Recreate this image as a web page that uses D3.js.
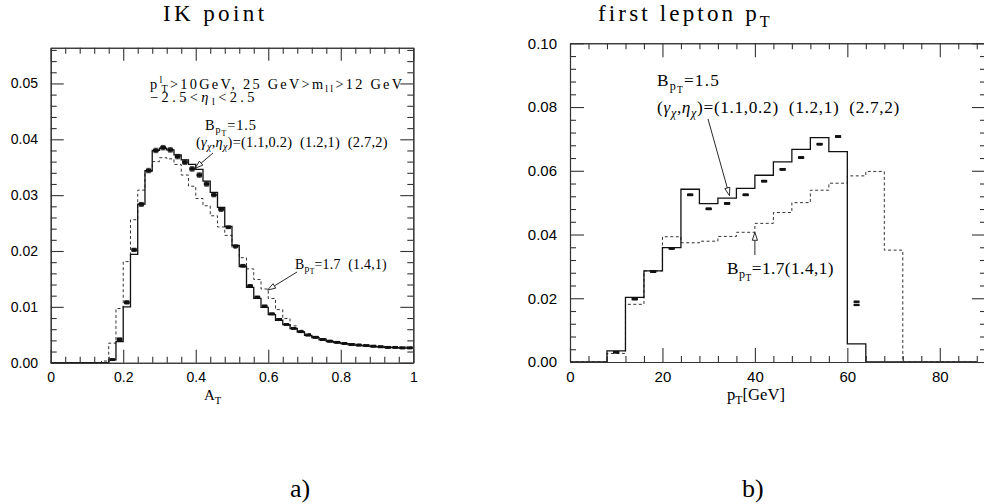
<!DOCTYPE html>
<html>
<head>
<meta charset="utf-8">
<script src="https://cdn.jsdelivr.net/npm/d3@7/dist/d3.min.js"></script>
<style>
  html, body { margin: 0; padding: 0; background: #fff; }
  svg { display: block; }
</style>
</head>
<body>
<svg id="chart" width="984" height="504"></svg>
<script>
// ---------- A_T distribution (0.02-wide bins, lower edges 0.00 ... 0.98) ----------
const atBinWidth = 0.02;
const atBinLow = d3.range(50).map(i => +(i * atBinWidth).toFixed(2));

// B_pT = 1.5, (gamma, eta) = (1.1, 0.2): solid histogram
const atSolid = [
  0, 0, 0, 0, 0, 0, 0, 0,
  0.0005, 0.0038, 0.0100, 0.0194, 0.0284, 0.0344, 0.0380, 0.0384, 0.0381, 0.0372,
  0.0363, 0.0355, 0.0346, 0.0325, 0.0305, 0.0278, 0.0244, 0.0210, 0.0172, 0.0135,
  0.0115, 0.0099, 0.0086, 0.0076, 0.0068, 0.0061, 0.0055, 0.0049, 0.0045, 0.0041,
  0.0038, 0.0036, 0.0034, 0.0032, 0.0031, 0.0030, 0.0029, 0.0028, 0.0027, 0.0027,
  0.0026, 0.0026
];
// B_pT = 1.7, (1.4, 1): dashed histogram
const atDashed = [
  0, 0, 0, 0, 0, 0, 0, 0.0003,
  0.0035, 0.0097, 0.0181, 0.0256, 0.0309, 0.0342, 0.0360, 0.0367, 0.0365, 0.0355,
  0.0336, 0.0316, 0.0294, 0.0281, 0.0263, 0.0243, 0.0228, 0.0205, 0.0188, 0.0168,
  0.0149, 0.0132, 0.0115, 0.0095, 0.0079, 0.0066, 0.0058, 0.0052, 0.0047, 0.0043,
  0.0040, 0.0037, 0.0035, 0.0034, 0.0033, 0.0032, 0.0031, 0.0030, 0.0029, 0.0029,
  0.0028, 0.0028
];
// (1.2, 1) and (2.7, 2): points with error bars
const atPointsB = [
  null, null, null, null, null, null, null, null,
  0.0006, 0.0043, 0.0109, 0.0203, 0.0284, 0.0345, 0.0381, 0.0386, 0.0382, 0.0370,
  0.0360, 0.0348, 0.0337, 0.0321, 0.0301, 0.0275, 0.0243, 0.0209, 0.0174, 0.0138,
  0.0118, 0.0102, 0.0088, 0.0078, 0.0069, 0.0062, 0.0056, 0.0050, 0.0046, 0.0042,
  0.0039, 0.0037, 0.0035, 0.0033, 0.0032, 0.0031, 0.0030, 0.0029, 0.0028, 0.0028,
  0.0027, 0.0027
];
const atPointsC = [
  null, null, null, null, null, null, null, null,
  0.0005, 0.0041, 0.0107, 0.0201, 0.0283, 0.0343, 0.0379, 0.0384, 0.0380, 0.0368,
  0.0358, 0.0346, 0.0335, 0.0319, 0.0300, 0.0274, 0.0242, 0.0208, 0.0173, 0.0137,
  0.0117, 0.0101, 0.0087, 0.0077, 0.0068, 0.0061, 0.0055, 0.0049, 0.0045, 0.0041,
  0.0038, 0.0036, 0.0034, 0.0032, 0.0031, 0.0030, 0.0029, 0.0028, 0.0027, 0.0027,
  0.0026, 0.0026
];
const atErrors = [
  0, 0, 0, 0, 0, 0, 0, 0,
  0.0001, 0.0001, 0.0002, 0.0002, 0.0003, 0.0003, 0.0003, 0.0003, 0.0003, 0.0003,
  0.0003, 0.0003, 0.0003, 0.0003, 0.0003, 0.0003, 0.0002, 0.0002, 0.0002, 0.0002,
  0.0001, 0.0001, 0.0001, 0.0001, 0.0001, 0.0001, 0.0001, 0.0001, 0.0001, 0.0001,
  0.0001, 0.0001, 0.0001, 0.0001, 0.0001, 0.0001, 0.0001, 0.0001, 0.0001, 0.0001,
  0.0001, 0.0001
];
const atTicks = [0, 0.2, 0.4, 0.6, 0.8, 1];
const atTickLabels = ["0", "0.2", "0.4", "0.6", "0.8", "1"];
const atYTicks = [0, 0.01, 0.02, 0.03, 0.04, 0.05];
const atYTickLabels = ["0.00", "0.01", "0.02", "0.03", "0.04", "0.05"];

// ---------- first lepton pT distribution (4 GeV bins, lower edges 0 ... 84) ----------
const ptBinWidth = 4;
const ptBinLow = d3.range(22).map(i => i * ptBinWidth);
const ptSolid = [
  0, 0, 0.0035, 0.0203, 0.0286, 0.0359, 0.0542, 0.0497, 0.0514, 0.0545, 0.0586,
  0.0628, 0.0667, 0.0704, 0.0660, 0.0057, 0, 0, 0, 0, 0, 0
];
const ptDashed = [
  0, 0, 0.0027, 0.0181, 0.0286, 0.0393, 0.0374, 0.0379, 0.0394, 0.0407, 0.0435,
  0.0469, 0.0500, 0.0539, 0.0561, 0.0584, 0.0598, 0.0351, 0, 0, 0, 0
];
const ptPointsB = [
  null, null, 0.0031, 0.0198, 0.0284, 0.0357, 0.0525, 0.0481, 0.0498, 0.0525, 0.0568,
  0.0605, 0.0642, 0.0684, 0.0708, 0.0189, null, null, null, null, null, null
];
const ptPointsC = [
  null, null, 0.0030, 0.0197, 0.0283, 0.0356, 0.0524, 0.0480, 0.0497, 0.0524, 0.0567,
  0.0604, 0.0641, 0.0683, 0.0707, 0.0179, null, null, null, null, null, null
];
const ptErrors = [
  0, 0, 0.0001, 0.0002, 0.0002, 0.0002, 0.0002, 0.0002, 0.0002, 0.0002, 0.0002,
  0.0002, 0.0002, 0.0002, 0.0002, 0.0002, 0, 0, 0, 0, 0, 0
];
const ptTicks = [0, 20, 40, 60, 80];
const ptTickLabels = ["0", "20", "40", "60", "80"];
const ptYTicks = [0, 0.02, 0.04, 0.06, 0.08, 0.10];
const ptYTickLabels = ["0.00", "0.02", "0.04", "0.06", "0.08", "0.10"];

// ---------- drawing ----------
const svg = d3.select("#chart");
const SERIF = '"Liberation Serif", "Times New Roman", serif';
const SANS = '"Liberation Sans", Arial, sans-serif';
const INK = "#111";

const xA = d3.scaleLinear().domain([0, 1]).range([50.7, 413.3]);
const yA = d3.scaleLinear().domain([0, 0.0564]).range([362.7, 47.7]);
const xP = d3.scaleLinear().domain([0, 90]).range([570, 986]);
const yP = d3.scaleLinear().domain([0, 0.1]).range([362, 43.3]);

function minorValues(lo, hi, step, majorStep) {
  return d3.range(lo, hi + step * 0.01, step)
    .filter(v => Math.abs(v / majorStep - Math.round(v / majorStep)) > 1e-6);
}

function drawAxes(x, y, cfg) {
  const g = svg.append("g");
  const [xl, xr] = x.range();
  const [yb, yt] = y.range();
  const put = (axis, tx, ty) => {
    const a = g.append("g").attr("transform", `translate(${tx},${ty})`).call(axis);
    a.attr("font-family", SANS).attr("font-size", cfg.fontSize);
    a.selectAll("path.domain").attr("stroke", "#333").attr("stroke-width", 1.1);
    a.selectAll(".tick line").attr("stroke", "#333").attr("stroke-width", 1.1);
    a.selectAll(".tick text").attr("fill", "#000");
    return a;
  };
  put(d3.axisBottom(x).tickValues(cfg.xTicks).tickFormat((d, i) => cfg.xLabels[i])
      .tickSize(-cfg.major).tickSizeOuter(0).tickPadding(cfg.xPad), 0, yb);
  put(d3.axisBottom(x).tickValues(cfg.xMinor).tickFormat("")
      .tickSize(-cfg.minor).tickSizeOuter(0), 0, yb);
  put(d3.axisTop(x).tickValues(cfg.xTicks).tickFormat("")
      .tickSize(-cfg.major).tickSizeOuter(0), 0, yt);
  put(d3.axisTop(x).tickValues(cfg.xMinor).tickFormat("")
      .tickSize(-cfg.minor).tickSizeOuter(0), 0, yt);
  put(d3.axisLeft(y).tickValues(cfg.yTicks).tickFormat((d, i) => cfg.yLabels[i])
      .tickSize(-cfg.major).tickSizeOuter(0).tickPadding(cfg.yPad), xl, 0);
  put(d3.axisLeft(y).tickValues(cfg.yMinor).tickFormat("")
      .tickSize(-cfg.minor).tickSizeOuter(0), xl, 0);
  put(d3.axisRight(y).tickValues(cfg.yTicks).tickFormat("")
      .tickSize(-cfg.major).tickSizeOuter(0), xr, 0);
  put(d3.axisRight(y).tickValues(cfg.yMinor).tickFormat("")
      .tickSize(-cfg.minor).tickSizeOuter(0), xr, 0);
}

function histPath(x, y, lows, width, values, style) {
  const pts = [];
  lows.forEach((lo, i) => {
    pts.push([lo, values[i]]);
    pts.push([Math.min(lo + width, x.domain()[1]), values[i]]);
  });
  const line = d3.line().x(d => x(d[0])).y(d => y(d[1]));
  const p = svg.append("path").attr("d", line(pts)).attr("fill", "none")
    .attr("stroke", style.stroke).attr("stroke-width", style.width);
  if (style.dash) p.attr("stroke-dasharray", style.dash);
}

function points(x, y, lows, width, values, errs, w) {
  const g = svg.append("g");
  lows.forEach((lo, i) => {
    const v = values[i];
    if (v === null) return;
    const cx = x(lo + width / 2);
    const e = errs[i];
    if (e > 0) {
      const ylo = y(v - e), yhi = y(v + e);
      g.append("line").attr("x1", cx).attr("x2", cx).attr("y1", ylo).attr("y2", yhi)
        .attr("stroke", INK).attr("stroke-width", 0.8);
      [ylo, yhi].forEach(yy => g.append("line")
        .attr("x1", cx - w / 2 + 0.5).attr("x2", cx + w / 2 - 0.5).attr("y1", yy).attr("y2", yy)
        .attr("stroke", INK).attr("stroke-width", 0.8));
    }
    g.append("rect").attr("x", cx - w / 2).attr("y", y(v) - 1.1)
      .attr("width", w).attr("height", 2.2).attr("fill", INK);
  });
}

// rich text: segments with sub / sub-sub / superscript levels and italics
const LEVELS = { n: [0, 1], sub: [0.24, 0.7], ssub: [0.42, 0.55], sup: [-0.4, 0.7] };
function buildText(x, y, size, segs) {
  const t = svg.append("text").attr("x", x).attr("y", y)
    .attr("font-family", SERIF).attr("font-size", size)
    .attr("fill", "#000").style("white-space", "pre");
  let cur = 0;
  segs.forEach(s => {
    const [off, sc] = LEVELS[s.lv || "n"];
    const ts = t.append("tspan").text(s.t).attr("font-size", size * sc)
      .attr("dy", (off - cur) * size);
    if (s.dx) ts.attr("dx", s.dx * size);
    if (s.it) ts.attr("font-style", "italic");
    cur = off;
  });
  return t;
}
// text fitted to a given width: grow the size a little, then spread the letters
function richText(x, y, size, segs, target, maxGrow = 1.15) {
  let t = buildText(x, y, size, segs);
  if (!target) return t;
  let w = t.node().getBBox().width;
  const grow = Math.min(Math.max(target / w, 0.85), maxGrow);
  if (Math.abs(grow - 1) > 0.01) {
    t.remove();
    t = buildText(x, y, size * grow, segs);
    w = t.node().getBBox().width;
  }
  const n = segs.reduce((a, s) => a + s.t.length, 0);
  t.attr("letter-spacing", (target - w) / n);
  return t;
}

function arrow(x0, y0, x1, y1) {
  const g = svg.append("g");
  const ang = Math.atan2(y1 - y0, x1 - x0);
  const L = 8, H = 2.6;
  const bx = x1 - L * Math.cos(ang), by = y1 - L * Math.sin(ang);
  g.append("line").attr("x1", x0).attr("y1", y0).attr("x2", bx).attr("y2", by)
    .attr("stroke", INK).attr("stroke-width", 0.9);
  const px = -Math.sin(ang) * H, py = Math.cos(ang) * H;
  g.append("path")
    .attr("d", `M${x1},${y1}L${bx + px},${by + py}L${bx - px},${by - py}Z`)
    .attr("fill", "#fff").attr("stroke", INK).attr("stroke-width", 0.9);
}

// ---------- panel a: A_T ----------
histPath(xA, yA, atBinLow, atBinWidth, atDashed, { stroke: "#333", width: 1, dash: "3,2.5" });
histPath(xA, yA, atBinLow, atBinWidth, atSolid, { stroke: INK, width: 1.3 });
points(xA, yA, atBinLow, atBinWidth, atPointsB, atErrors, 5.5);
points(xA, yA, atBinLow, atBinWidth, atPointsC, atErrors, 5.5);
drawAxes(xA, yA, {
  xTicks: atTicks, xLabels: atTickLabels, xMinor: minorValues(0, 1, 0.04, 0.2),
  yTicks: atYTicks, yLabels: atYTickLabels, yMinor: minorValues(0, 0.056, 0.002, 0.01),
  major: 13, minor: 6, fontSize: 14, xPad: 9, yPad: 12.7
});

// ---------- panel b: first lepton pT ----------
histPath(xP, yP, ptBinLow, ptBinWidth, ptDashed, { stroke: "#333", width: 1, dash: "3,2.5" });
histPath(xP, yP, ptBinLow, ptBinWidth, ptSolid, { stroke: INK, width: 1.3 });
points(xP, yP, ptBinLow, ptBinWidth, ptPointsB, ptErrors, 6);
points(xP, yP, ptBinLow, ptBinWidth, ptPointsC, ptErrors, 6);
drawAxes(xP, yP, {
  xTicks: ptTicks, xLabels: ptTickLabels, xMinor: minorValues(0, 88, 4, 20),
  yTicks: ptYTicks, yLabels: ptYTickLabels, yMinor: minorValues(0, 0.1, 0.004, 0.02),
  major: 14, minor: 6, fontSize: 15, xPad: 9.5, yPad: 13
});

// ---------- titles and axis labels ----------
richText(163, 21, 21, [{ t: "IK point" }], 105, 1.1);
richText(598, 21, 21, [{ t: "first lepton p" }, { t: "T", lv: "sub" }], 175, 1.1);
richText(204, 400, 15, [{ t: "A" }, { t: "T", lv: "sub" }]);
richText(727, 400, 15, [{ t: "p" }, { t: "T", lv: "sub" }, { t: "[GeV]" }], 58);
richText(290, 497, 26, [{ t: "a)" }]);
richText(742, 497, 26, [{ t: "b)" }]);

// ---------- annotations, panel a ----------
richText(150, 89, 12.5, [
  { t: "p" }, { t: "l", lv: "sup" }, { t: "T", lv: "sub", dx: -0.2 },
  { t: ">10GeV, 25 GeV>m" }, { t: "ll", lv: "sub" }, { t: ">12 GeV" }
], 255);
richText(150, 102, 12.5, [
  { t: "−2.5<" }, { t: "η", it: true }, { t: "l", lv: "sub" }, { t: "<2.5" }
], 108);
richText(205, 130, 12.5, [
  { t: "B" }, { t: "p", lv: "sub" }, { t: "T", lv: "ssub" }, { t: "=1.5" }
], 52);
richText(196, 146.5, 12.5, [
  { t: "(" }, { t: "γ", it: true }, { t: "χ", lv: "sub", it: true }, { t: "," },
  { t: "η", it: true }, { t: "χ", lv: "sub", it: true }, { t: ")=(1.1,0.2)  (1.2,1)  (2.7,2)" }
], 192);
arrow(213, 153, xA(0.398), yA(0.0348));
richText(295, 268.5, 12, [
  { t: "B" }, { t: "p", lv: "sub" }, { t: "T", lv: "ssub" }, { t: "=1.7  (1.4,1)" }
], 92);
arrow(297, 272, xA(0.598), yA(0.0130));

// ---------- annotations, panel b ----------
richText(657, 86, 15, [
  { t: "B" }, { t: "p", lv: "sub" }, { t: "T", lv: "ssub" }, { t: "=1.5" }
], 63);
richText(657, 113, 15, [
  { t: "(" }, { t: "γ", it: true }, { t: "χ", lv: "sub", it: true }, { t: "," },
  { t: "η", it: true }, { t: "χ", lv: "sub", it: true }, { t: ")=(1.1,0.2)  (1.2,1)  (2.7,2)" }
], 243);
arrow(708, 119, xP(34.5), yP(0.0522));
richText(727, 274, 15, [
  { t: "B" }, { t: "p", lv: "sub" }, { t: "T", lv: "ssub" }, { t: "=1.7(1.4,1)" }
], 107);
arrow(xP(40), 255, xP(40), yP(0.0407));
</script>
</body>
</html>
